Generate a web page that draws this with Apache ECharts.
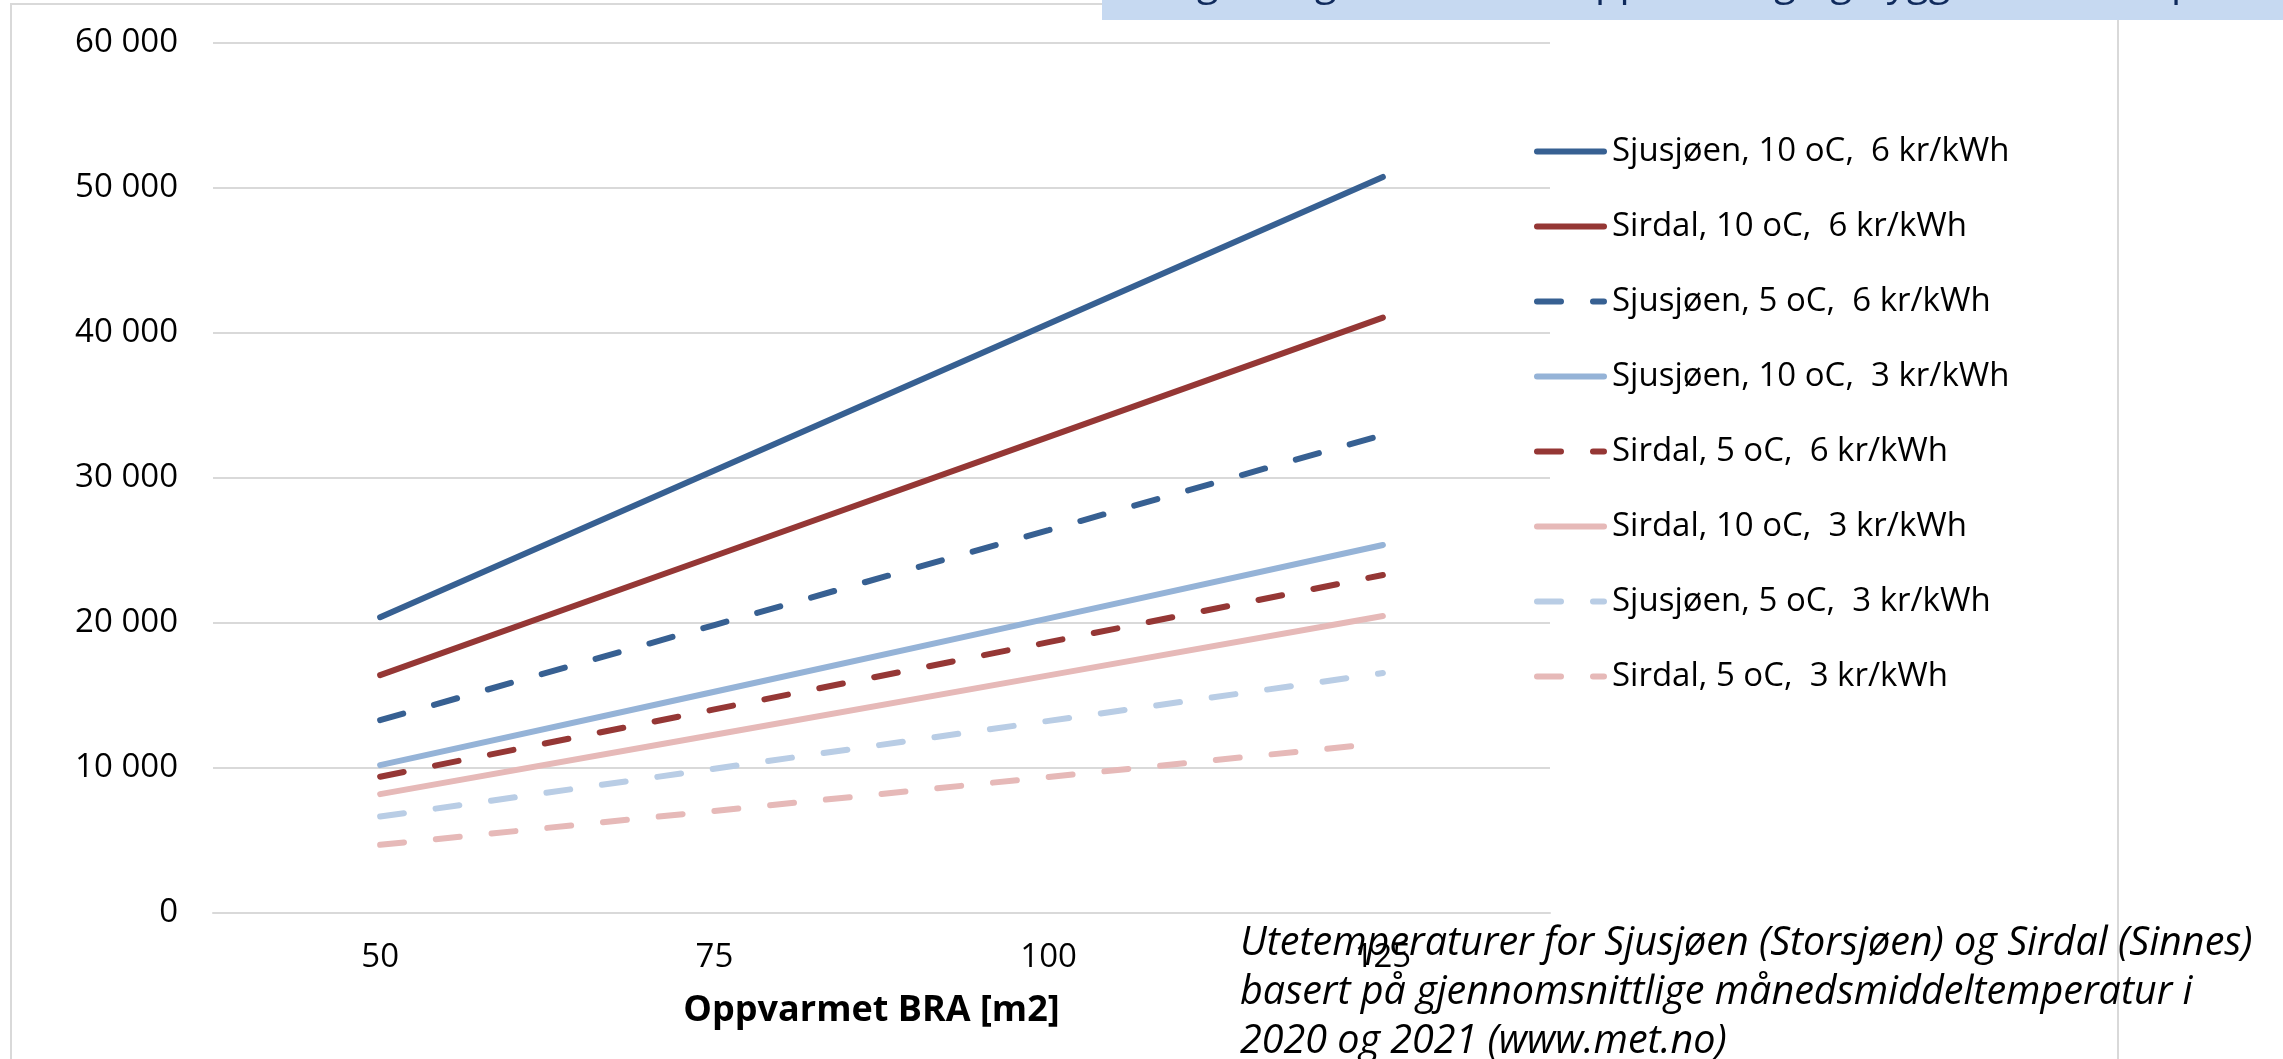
<!DOCTYPE html>
<html>
<head>
<meta charset="utf-8">
<script src="https://cdn.jsdelivr.net/npm/echarts@6/dist/echarts.min.js"></script>
<style>
html,body{margin:0;padding:0;background:#fff;}
#chart{width:2283px;height:1059px;}
</style>
</head>
<body>
<div id="chart"></div>
<script>
const categories = ['50', '75', '100', '125'];
const yTicks = [0, 10000, 20000, 30000, 40000, 50000, 60000];

const seriesNames = [
  'Sjusjøen, 10 oC,  6 kr/kWh',
  'Sirdal, 10 oC,  6 kr/kWh',
  'Sjusjøen, 5 oC,  6 kr/kWh',
  'Sjusjøen, 10 oC,  3 kr/kWh',
  'Sirdal, 5 oC,  6 kr/kWh',
  'Sirdal, 10 oC,  3 kr/kWh',
  'Sjusjøen, 5 oC,  3 kr/kWh',
  'Sirdal, 5 oC,  3 kr/kWh'
];

const sjusjoen10_6 = [20400, 30520, 40640, 50760];
const sirdal10_6   = [16400, 24620, 32840, 41060];
const sjusjoen5_6  = [13300, 19860, 26410, 32970];
const sjusjoen10_3 = [10200, 15260, 20320, 25380];
const sirdal5_6    = [9400, 14040, 18680, 23310];
const sirdal10_3   = [8200, 12290, 16390, 20480];
const sjusjoen5_3  = [6650, 9950, 13250, 16550];
const sirdal5_3    = [4700, 7040, 9380, 11720];

const seriesData = [sjusjoen10_6, sirdal10_6, sjusjoen5_6, sjusjoen10_3, sirdal5_6, sirdal10_3, sjusjoen5_3, sirdal5_3];
const seriesColors = ['#376092', '#953735', '#376092', '#95b3d7', '#953735', '#e6b9b8', '#b9cde5', '#e6b9b8'];
const seriesDashed = [false, false, true, false, true, false, true, true];

const xTitle = 'Oppvarmet BRA [m2]';
const noteText = 'Utetemperaturer for Sjusjøen (Storsjøen) og Sirdal (Sinnes)\nbasert på gjennomsnittlige månedsmiddeltemperatur i\n2020 og 2021 (www.met.no)';
const bannerText = 'Årlig energikostnad for oppvarming og byggets varmetap, kr/år, ved ulik størrelse på hytte og ulik strømpris og innetemperatur';

const FONT = '"Open Sans", "Noto Sans", sans-serif';

const SOLID_ICON = 'path://M3,0H70A3,3 0 0 1 70,6H3A3,3 0 0 1 3,0Z';
const DASH_ICON = 'path://M3,0H27A3,3 0 0 1 27,6H3A3,3 0 0 1 3,0Z M59,0H70A3,3 0 0 1 70,6H59A3,3 0 0 1 59,0Z';

const chart = echarts.init(document.getElementById('chart'), null, {renderer: 'canvas'});

function fmt(v) {
  return String(v).replace(/\B(?=(\d{3})+(?!\d))/g, ' ');
}

const series = seriesNames.map((name, i) => ({
  name: name,
  type: 'line',
  data: seriesData[i],
  symbol: 'none',
  smooth: false,
  z: 10 - i,
  lineStyle: {
    color: seriesColors[i],
    width: 6,
    type: seriesDashed[i] ? [24, 32] : 'solid',
    cap: 'round'
  },
  itemStyle: {color: seriesColors[i]},
  emphasis: {disabled: true}
}));

const legendData = seriesNames.map((name, i) => ({
  name: name,
  icon: seriesDashed[i] ? DASH_ICON : SOLID_ICON,
  itemStyle: {color: seriesColors[i], borderWidth: 0}
}));

const option = {
  animation: false,
  backgroundColor: '#ffffff',
  grid: {left: 213, right: 733, top: 43, bottom: 146, containLabel: false},
  xAxis: {
    type: 'category',
    data: categories,
    boundaryGap: true,
    axisLine: {show: true, lineStyle: {color: '#d9d9d9', width: 2}},
    axisTick: {show: false},
    axisLabel: {color: '#000', fontFamily: FONT, fontSize: 33, margin: 28},
    name: xTitle,
    nameLocation: 'middle',
    nameGap: 80,
    nameTextStyle: {color: '#000', fontFamily: FONT, fontSize: 36, fontWeight: 'bold', padding: [0, 20, 0, 0]}
  },
  yAxis: {
    type: 'value',
    min: yTicks[0],
    max: yTicks[yTicks.length - 1],
    interval: yTicks[1] - yTicks[0],
    axisLine: {show: false},
    axisTick: {show: false},
    splitLine: {show: true, lineStyle: {color: '#d9d9d9', width: 2}},
    axisLabel: {color: '#000', fontFamily: FONT, fontSize: 33, margin: 35, formatter: fmt}
  },
  legend: {
    orient: 'vertical',
    left: 1529,
    top: 130,
    itemWidth: 73,
    itemHeight: 6,
    itemGap: 42,
    textStyle: {color: '#000', fontFamily: FONT, fontSize: 33},
    selectedMode: false,
    data: legendData
  },
  series: series,
  graphic: [
    {
      type: 'rect',
      z: 0,
      shape: {x: 11, y: 4, width: 2107, height: 1200},
      style: {fill: 'none', stroke: '#d9d9d9', lineWidth: 2},
      silent: true
    },
    {
      type: 'rect',
      z: 100,
      shape: {x: 1102, y: 0, width: 1181, height: 20},
      style: {fill: '#c6d9f1'},
      silent: true
    },
    {
      type: 'text',
      z: 101,
      left: 1135,
      top: -36,
      style: {text: bannerText, font: '40px ' + FONT, fill: '#0f2a5c'},
      silent: true
    },
    {
      type: 'text',
      z: 102,
      left: 1240,
      top: 919,
      style: {text: noteText, font: 'italic 39.5px ' + FONT, fill: '#000', lineHeight: 49},
      silent: true
    }
  ]
};

chart.setOption(option);
</script>
</body>
</html>
